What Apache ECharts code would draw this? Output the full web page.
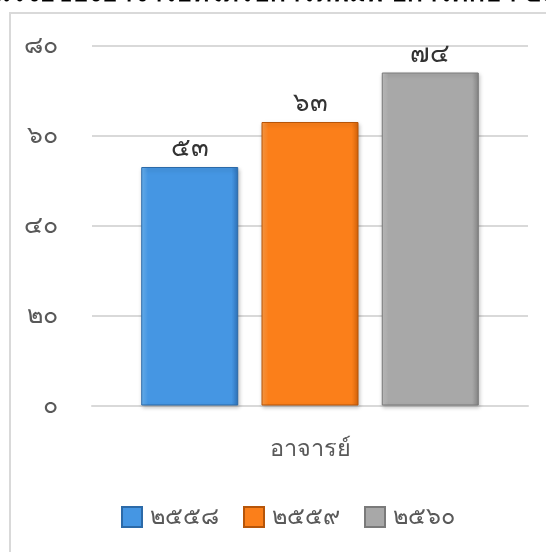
<!DOCTYPE html>
<html>
<head>
<meta charset="utf-8">
<script src="https://cdn.jsdelivr.net/npm/echarts@6/dist/echarts.min.js"></script>
<style>
html,body{margin:0;padding:0;background:#fff;overflow:hidden;}
#frame{position:absolute;left:9px;top:12px;width:700px;height:700px;border:2px solid #d9d9d9;box-sizing:border-box;}
#chart{position:absolute;left:0;top:0;width:546px;height:552px;}
</style>
</head>
<body>
<div id="frame"></div>
<div id="chart"></div>
<script>
var titleText = 'จำนวนผลงานวิจัยของอาจารย์ที่ได้รับการตีพิมพ์ ปีการศึกษา ๒๕๕๘ - ๒๕๖๐';
var categories = ['อาจารย์'];
var seriesNames = ['๒๕๕๘', '๒๕๕๙', '๒๕๖๐'];
var seriesValues = [53, 63, 74];
var yMin = 0, yMax = 80, yStep = 20;

var thaiDigits = ['๐','๑','๒','๓','๔','๕','๖','๗','๘','๙'];
function toThai(v){ return String(v).replace(/[0-9]/g, function(d){ return thaiDigits[+d]; }); }

var palettes = [
  {light:'#6cb6f5', main:'#4596e3', dark:'#2f74bb', border:'#2c6aa8'},
  {light:'#ffa04a', main:'#fb7f1a', dark:'#d5640b', border:'#b65509'},
  {light:'#c2c2c2', main:'#a8a8a8', dark:'#878787', border:'#7a7a7a'}
];
function grad(p){
  return new echarts.graphic.LinearGradient(0,0,1,0,[
    {offset:0,color:p.light},{offset:0.07,color:p.main},
    {offset:0.93,color:p.main},{offset:1,color:p.dark}
  ]);
}

var chart = echarts.init(document.getElementById('chart'), null, {renderer:'canvas'});
var series = seriesNames.map(function(name, i){
  return {
    name: name,
    type: 'bar',
    data: [seriesValues[i]],
    barWidth: 97,
    barGap: '24%',
    itemStyle: {
      color: grad(palettes[i]),
      borderColor: palettes[i].border,
      borderWidth: 1,
      shadowColor: 'rgba(0,0,0,0.25)',
      shadowBlur: 4,
      shadowOffsetX: 1,
      shadowOffsetY: 2
    },
    label: {
      show: true,
      position: 'top',
      distance: 5,
      color: '#333333',
      fontSize: 26,
      fontWeight: 'normal',
      formatter: function(p){ return toThai(p.value); }
    }
  };
});

chart.setOption({
  animation: false,
  textStyle: {fontFamily: 'Noto Sans, DejaVu Sans, sans-serif'},
  graphic: [{
    type: 'text',
    left: 'center',
    top: -19,
    style: {text: titleText, fontSize: 26, fontWeight: 'bold', fill: '#000'}
  }],
  grid: {left: 92, right: 18, top: 45.5, bottom: 146.5},
  legend: {
    bottom: 23,
    left: 121,
    padding: 0,
    itemWidth: 20,
    itemHeight: 20,
    itemGap: 24,
    icon: 'rect',
    textStyle: {color: '#595959', fontSize: 23.5, padding: [0,0,0,3]},
    data: seriesNames
  },
  xAxis: {
    type: 'category',
    data: categories,
    axisLine: {lineStyle: {color: '#d9d9d9', width: 2}},
    axisTick: {show: false},
    axisLabel: {color: '#595959', fontSize: 23.5, margin: 32}
  },
  yAxis: {
    type: 'value',
    min: yMin, max: yMax, interval: yStep,
    axisLine: {show: false},
    axisTick: {show: false},
    splitLine: {lineStyle: {color: '#d9d9d9', width: 2}},
    axisLabel: {color: '#595959', fontSize: 25, margin: 34, formatter: function(v){ return toThai(v); }}
  },
  series: series
});
</script>
</body>
</html>
